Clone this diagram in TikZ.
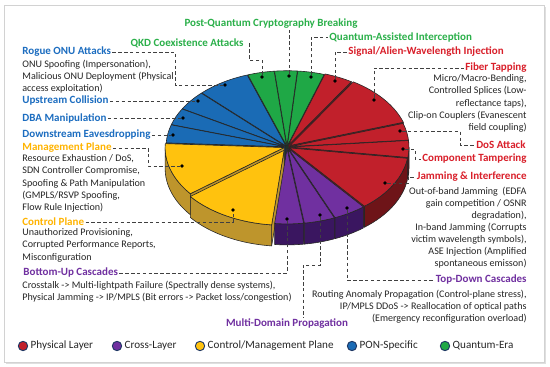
\documentclass[tikz,border=0pt]{standalone}
\usepackage{fontspec}
\setmainfont{Carlito}
\usepackage{tikz}
\usetikzlibrary{arrows.meta, calc, positioning, shapes.geometric}
\usepackage{xcolor}
\definecolor{pRed}{HTML}{C1202B}
\definecolor{pRedD}{HTML}{6E1418}
\definecolor{pBlue}{HTML}{1A6BB5}
\definecolor{pBlueD}{HTML}{0E3E6C}
\definecolor{pGreen}{HTML}{1FA846}
\definecolor{pGreenD}{HTML}{0F6028}
\definecolor{pYellow}{HTML}{FFC20E}
\definecolor{pYellowD}{HTML}{BE952C}
\definecolor{pPurple}{HTML}{7030A0}
\definecolor{pPurpleD}{HTML}{3A1660}
\definecolor{tRed}{HTML}{D91F2A}
\definecolor{tBlue}{HTML}{1C6DC0}
\definecolor{tGreen}{HTML}{2BB04A}
\definecolor{tYellow}{HTML}{FFB400}
\definecolor{tPurple}{HTML}{7030A0}
\definecolor{txtGray}{HTML}{262626}
\definecolor{legEdge}{HTML}{1F3864}

% 一块扇形: 起角, 止角, 外移, 顶面色, 侧面色
\newcommand{\pieslice}[5]{%
  \pgfmathsetmacro\pmid{(#1+#2)/2}
  \begin{scope}[shift={({287+#3*cos(\pmid)},{220+0.63*#3*sin(\pmid)})}]
    \pgfmathtruncatemacro\pfa{cos(#1)>0}
    \pgfmathtruncatemacro\pfb{cos(#2)<0}
    \ifnum\pfa=1
      \filldraw[slc, fill=#5] (0,0) -- (#1:119 and 75) -- ++(0,-21) -- (0,-21) -- cycle;
    \fi
    \ifnum\pfb=1
      \filldraw[slc, fill=#5] (0,0) -- (#2:119 and 75) -- ++(0,-21) -- (0,-21) -- cycle;
    \fi
    \pgfmathsetmacro\pba{max(#1,180)}
    \pgfmathsetmacro\pbb{min(#2,360)}
    \ifdim\pba pt<\pbb pt
      \filldraw[slc, fill=#5] (\pba:119 and 75) arc[start angle=\pba, end angle=\pbb, x radius=119, y radius=75]
        -- ++(0,-21) arc[start angle=\pbb, end angle=\pba, x radius=119, y radius=75] -- cycle;
    \fi
    \filldraw[slc, fill=#4] (0,0) -- (#1:119 and 75) arc[start angle=#1, end angle=#2, x radius=119, y radius=75] -- cycle;
  \end{scope}}

\begin{document}
\begin{tikzpicture}[x=0.03cm, y=0.03cm,
    slc/.style={draw=black!85, line width=0.5pt, line join=round},
    ttl/.style={font=\bfseries\fontsize{9.4}{11}\selectfont, inner sep=1pt},
    bodytxt/.style={font=\fontsize{8.6}{10.3}\selectfont, text=txtGray, inner sep=1pt},
    leader/.style={densely dashed, draw=black!75, line width=0.5pt},
    pdot/.style={circle, fill=black, inner sep=0pt, minimum size=3.2pt},
    legdot/.style={circle, draw=legEdge, line width=0.8pt, inner sep=0pt, minimum size=8pt},
    legtxt/.style={font=\fontsize{9.5}{11}\selectfont, text=txtGray, inner sep=1pt}]
    \useasboundingbox (0,0) rectangle (550,367);

    % 边框
    \fill[gray!25] (6,3) rectangle (546,360);
    \filldraw[fill=white, draw=gray!35, line width=0.6pt] (4,5) rectangle (544,362);

    % 饼图
    \foreach \a/\b/\e/\tc/\sc in {85/96/2/pGreen/pGreenD, 72/85/2/pGreen/pGreenD, 96/109/2/pGreen/pGreenD,
        58/72/3/pRed/pRedD, 109/135/2/pBlue/pBlueD, 18/58/4/pRed/pRedD, 135/150/2/pBlue/pBlueD,
        150/163/2/pBlue/pBlueD, 5/18/3/pRed/pRedD, 163/177/2/pBlue/pBlueD, 352/365/3/pRed/pRedD,
        177/218/3/pYellow/pYellowD, 309/352/3/pRed/pRedD, 293/309/3/pPurple/pPurpleD,
        218/264/6/pYellow/pYellowD, 278/293/3/pPurple/pPurpleD, 264/278/3/pPurple/pPurpleD}
      \pieslice{\a}{\b}{\e}{\tc}{\sc};

    % 左侧标签
    \node[ttl, text=tBlue, anchor=west] (rogueT) at (21,315) {Rogue ONU Attacks};
    \node[bodytxt, anchor=north west, align=left] (rogueB) at (21,308.5) {ONU Spoofing (Impersonation),\\Malicious ONU Deployment (Physical\\access exploitation)};
    \node[ttl, text=tBlue, anchor=west] (upT) at (21,266) {Upstream Collision};
    \node[ttl, text=tBlue, anchor=west] (dbaT) at (21,249) {DBA Manipulation};
    \node[ttl, text=tBlue, anchor=west] (downT) at (21,232) {Downstream Eavesdropping};
    \node[ttl, text=tYellow, anchor=west] (mgmtT) at (21,219) {Management Plane};
    \node[bodytxt, anchor=north west, align=left] (mgmtB) at (21,213.5) {Resource Exhaustion / DoS,\\SDN Controller Compromise,\\Spoofing \& Path Manipulation\\(GMPLS/RSVP Spoofing,\\Flow Rule Injection)};
    \node[ttl, text=tYellow, anchor=west] (ctrlT) at (21,145) {Control Plane};
    \node[bodytxt, anchor=north west, align=left] (ctrlB) at (21,139.5) {Unauthorized Provisioning,\\Corrupted Performance Reports,\\Misconfiguration};
    \node[ttl, text=tPurple, anchor=west] (botT) at (22,94) {Bottom-Up Cascades};
    \node[bodytxt, anchor=north west, align=left] (botB) at (21,87.5) {Crosstalk -> Multi-lightpath Failure (Spectrally dense systems),\\Physical Jamming -> IP/MPLS (Bit errors -> Packet loss/congestion)};

    % 上方标签
    \node[ttl, text=tGreen] (pqT) at (271,343) {Post-Quantum Cryptography Breaking};
    \node[ttl, text=tGreen, anchor=east] (qkdT) at (245,324) {QKD Coexistence Attacks};
    \node[ttl, text=tGreen, anchor=west] (qaT) at (328,330) {Quantum-Assisted Interception};
    \node[ttl, text=tRed, anchor=west] (sigT) at (347,315) {Signal/Alien-Wavelength Injection};

    % 右侧标签
    \node[ttl, text=tRed, anchor=east] (fibT) at (528,299) {Fiber Tapping};
    \node[bodytxt, anchor=north east, align=right] (fibB) at (528,293.5) {Micro/Macro-Bending,\\Controlled Splices (Low-\\reflectance taps),\\Clip-on Couplers (Evanescent\\field coupling)};
    \node[ttl, text=tRed, anchor=east] (dosT) at (527,222) {DoS Attack};
    \node[ttl, text=tRed, anchor=east] (compT) at (528,208) {Component Tampering};
    \node[ttl, text=tRed, anchor=east] (jamT) at (528,190) {Jamming \& Interference};
    \node[bodytxt, anchor=north east, align=right] (jamB) at (528,181.5) {Out-of-band Jamming~ (EDFA\\gain competition / OSNR\\degradation),\\In-band Jamming (Corrupts\\victim wavelength symbols),\\ASE Injection (Amplified\\spontaneous emisson)};
    \node[ttl, text=tPurple, anchor=east] (tdT) at (528,87) {Top-Down Cascades};
    \node[bodytxt, anchor=north east, align=right] (tdB) at (528,78.5) {Routing Anomaly Propagation (Control-plane stress),\\IP/MPLS DDoS -> Reallocation of optical paths\\(Emergency reconfiguration overload)};
    \node[ttl, text=tPurple] (multiT) at (287,43) {Multi-Domain Propagation};

    % 扇形上的点
    \node[pdot] (rogueD) at (225,282) {};
    \node[pdot] (upD) at (198,266) {};
    \node[pdot] (dbaD) at (183,249) {};
    \node[pdot] (downD) at (173,232) {};
    \node[pdot] (mgmtD) at (182,201) {};
    \node[pdot] (ctrlD) at (233,157) {};
    \node[pdot] (botD) at (287,148) {};
    \node[pdot] (multiD) at (320,152) {};
    \node[pdot] (tdD) at (347,159) {};
    \node[pdot] (jamD) at (385,184) {};
    \node[pdot] (compD) at (403,218) {};
    \node[pdot] (dosD) at (400,236) {};
    \node[pdot] (fibD) at (374,267) {};
    \node[pdot] (sigD) at (335,286) {};
    \node[pdot] (qaD) at (311,290) {};
    \node[pdot] (pqD) at (289,291) {};
    \node[pdot] (qkdD) at (262,290) {};
    \coordinate (multiB) at (303,102);

    % 引线
    \draw[leader] (rogueT.east) -| ($(rogueD)+(-50,0)$) -- (rogueD);
    \draw[leader] (upT.east) -- (upD);
    \draw[leader] (dbaT.east) -- (dbaD);
    \draw[leader] (downT.east) -- (downD);
    \draw[leader] (mgmtT.east) -| ($(mgmtD)+(-34,0)$) -- (mgmtD);
    \draw[leader] (ctrlT.east) -| (ctrlD);
    \draw[leader] (botT.east) -| (botD);
    \draw[leader] (multiD) |- (multiB) -- (multiB |- multiT.north);
    \draw[leader] (tdD) |- (tdT.west);
    \draw[leader] (jamD) -- ++(23,0) |- (jamT.west);
    \draw[leader] (compD) -- ++(12,0) |- (compT.west);
    \draw[leader] (dosD) -- ++(60,0) |- (dosT.west);
    \draw[leader] (fibD) |- (fibT.west);
    \draw[leader] (sigD) |- (sigT.west);
    \draw[leader] (qaD) |- (qaT.west);
    \draw[leader] (pqD) -- (pqD |- pqT.south);
    \draw[leader] (qkdD) -- ++(0,17) -| ($(qkdT.east)+(4,0)$);

    % 图例
    \node[legdot, fill=pRed] (lgRed) at (23,21) {};
    \node[legtxt, right=1pt of lgRed] (lgRedT) {Physical Layer};
    \node[legdot, fill=pPurple] (lgPur) at (117,21) {};
    \node[legtxt, right=1pt of lgPur] (lgPurT) {Cross-Layer};
    \node[legdot, fill=pYellow] (lgYel) at (200,21) {};
    \node[legtxt, right=1pt of lgYel] (lgYelT) {Control/Management Plane};
    \node[legdot, fill=pBlue] (lgBlu) at (352,21) {};
    \node[legtxt, right=1pt of lgBlu] (lgBluT) {PON-Specific};
    \node[legdot, fill=pGreen] (lgGre) at (445,21) {};
    \node[legtxt, right=1pt of lgGre] (lgGreT) {Quantum-Era};
\end{tikzpicture}
\end{document}
